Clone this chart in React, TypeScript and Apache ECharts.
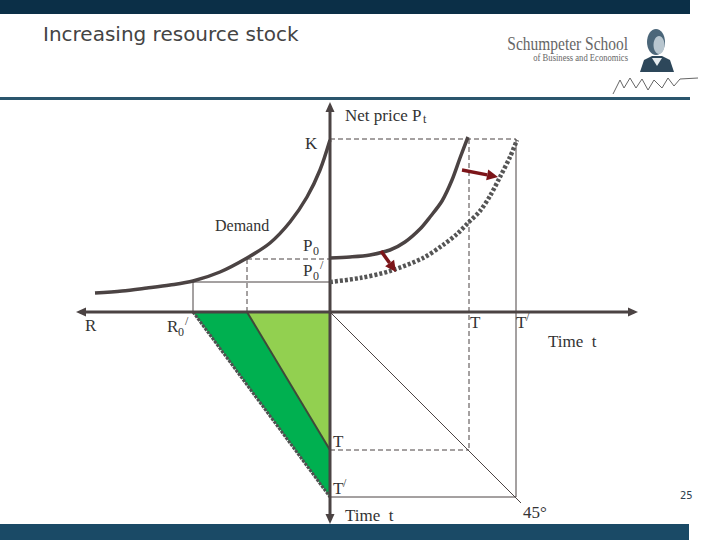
import React, { useEffect, useRef } from "react";
import * as echarts from "echarts";

// ---- Diagram data (diagram coordinates) ----
const demandCurve = [
  [95, 293], [122, 291], [147, 288], [170, 285], [193, 281], [220, 272], [247, 258],
  [270, 243], [290, 222], [307, 197], [320, 170], [330, 140],
];
const priceOriginal = [
  [330, 258], [350, 257], [370, 255], [390, 250], [405, 242], [420, 229],
  [430, 217], [442, 201], [452, 180], [460, 158], [468, 137],
];
const priceShifted = [
  [330, 282], [360, 278], [390, 271], [423, 258], [443, 245], [457, 234],
  [468, 223], [480, 211], [490, 196], [500, 177], [510, 157], [517, 140],
];
const stockDarkPoly = [[193, 312], [247, 312], [330, 450], [330, 497]];
const stockLightPoly = [[247, 312], [330, 312], [330, 450]];

const kLine = [[330, 139], [516, 139]];
const tDropOriginal = [[469, 139], [469, 450]];
const tDropShifted = [[516, 139], [516, 497]];
const p0Horizontal = [[247, 259], [330, 259]];
const p0Vertical = [[247, 259], [247, 312]];
const p0PrimeHorizontal = [[193, 282], [330, 282]];
const p0PrimeVertical = [[193, 282], [193, 312]];
const tHorizontal = [[330, 450], [469, 450]];
const tPrimeHorizontal = [[330, 497], [516, 497]];
const line45 = [[330, 312], [521, 503]];
const priceAxis = [[330, 106], [330, 520]];
const resourceAxis = [[80, 312], [634, 312]];
const darkEdge = [[193, 312], [330, 497]];
const lightEdge = [[247, 312], [330, 450]];

// arrow heads: tip x, tip y, from x, from y
const axisArrowHeads = [
  [330, 102, 330, 120],
  [330, 524, 330, 500],
  [76, 312, 100, 312],
  [638, 312, 610, 312],
];
// shift arrows: start x, start y, end x, end y
const shiftArrows = [
  [462, 170, 498, 177],
  [381, 251, 396, 272],
];

const INK = "#4b4343";
const SERIF = "'Liberation Serif', 'DejaVu Serif', serif";

function lineSeries(data: number[][], width: number, type: any, color = INK, smooth: any = false, z = 3) {
  return {
    type: "line",
    data,
    smooth,
    symbol: "none",
    silent: true,
    z,
    lineStyle: { width, type, color, cap: "butt" },
  };
}

function polySeries(points: number[][], fill: string, z = 1) {
  return {
    type: "custom",
    silent: true,
    z,
    data: [points[0]],
    renderItem: (_p: any, api: any) => ({
      type: "polygon",
      shape: { points: points.map((pt) => api.coord(pt)) },
      style: { fill },
    }),
  };
}

function txt(text: string, x: number, y: number, size = 17, extra: any = {}) {
  return {
    type: "text",
    x,
    y,
    z: 10,
    style: {
      text,
      fill: "#333",
      font: `${size}px ${SERIF}`,
      verticalAlign: "middle",
      align: "left",
      ...extra,
    },
  };
}

export default function App() {
  const ref = useRef<HTMLDivElement>(null);
  useEffect(() => {
    if (!ref.current) return;
    const chart = echarts.init(ref.current, null, { renderer: "svg" });
    const option: any = {
      animation: false,
      backgroundColor: "#ffffff",
      grid: { left: 0, right: 0, top: 0, bottom: 0 },
      xAxis: { type: "value", min: 0, max: 720, show: false },
      yAxis: { type: "value", min: 0, max: 540, inverse: true, show: false },
      series: [
        polySeries(stockDarkPoly, "#00b050", 1),
        polySeries(stockLightPoly, "#92d050", 1),
        lineSeries(darkEdge, 3, [3, 1], "#505050", false, 2),
        lineSeries(lightEdge, 2, "solid", "#3f4a3a", false, 2),
        lineSeries(kLine, 1, [5, 3]),
        lineSeries(tDropOriginal, 1, [5, 3]),
        lineSeries(tDropShifted, 1, "solid"),
        lineSeries(p0Horizontal, 1, [5, 3]),
        lineSeries(p0Vertical, 1, [5, 3]),
        lineSeries(p0PrimeHorizontal, 1, "solid"),
        lineSeries(p0PrimeVertical, 1, "solid"),
        lineSeries(tHorizontal, 1, [5, 3]),
        lineSeries(tPrimeHorizontal, 1, "solid"),
        lineSeries(line45, 1, "solid"),
        lineSeries(priceAxis, 3, "solid"),
        lineSeries(resourceAxis, 3, "solid"),
        lineSeries(demandCurve, 3.5, "solid", INK, 0.3, 4),
        lineSeries(priceOriginal, 3.5, "solid", INK, 0.3, 4),
        lineSeries(priceShifted, 4.5, [3, 2], "#555", 0.3, 4),
        {
          type: "custom",
          silent: true,
          z: 5,
          data: axisArrowHeads,
          renderItem: (_p: any, api: any) => {
            const tip = api.coord([api.value(0), api.value(1)]);
            const from = api.coord([api.value(2), api.value(3)]);
            const dx = tip[0] - from[0];
            const dy = tip[1] - from[1];
            const l = Math.hypot(dx, dy) || 1;
            const ux = dx / l, uy = dy / l;
            const len = 10, hw = 4.5;
            const bx = tip[0] - ux * len, by = tip[1] - uy * len;
            return {
              type: "polygon",
              shape: {
                points: [tip, [bx - uy * hw, by + ux * hw], [bx + uy * hw, by - ux * hw]],
              },
              style: { fill: INK },
            };
          },
        },
        {
          type: "custom",
          silent: true,
          z: 6,
          data: shiftArrows,
          renderItem: (_p: any, api: any) => {
            const a = api.coord([api.value(0), api.value(1)]);
            const b = api.coord([api.value(2), api.value(3)]);
            const dx = b[0] - a[0];
            const dy = b[1] - a[1];
            const l = Math.hypot(dx, dy) || 1;
            const ux = dx / l, uy = dy / l;
            const len = 11, hw = 5.5;
            const bx = b[0] - ux * len, by = b[1] - uy * len;
            return {
              type: "group",
              children: [
                {
                  type: "line",
                  shape: { x1: a[0], y1: a[1], x2: bx, y2: by },
                  style: { stroke: "#7c1519", lineWidth: 3.5 },
                },
                {
                  type: "polygon",
                  shape: { points: [b, [bx - uy * hw, by + ux * hw], [bx + uy * hw, by - ux * hw]] },
                  style: { fill: "#7c1519" },
                },
              ],
            };
          },
        },
      ],
      graphic: [
        // slide frame
        { type: "rect", z: 0, shape: { x: 0, y: 0, width: 690, height: 14 }, style: { fill: "#0b2f47" } },
        { type: "rect", z: 0, shape: { x: 0, y: 97, width: 690, height: 3 }, style: { fill: "#2a566d" } },
        { type: "rect", z: 0, shape: { x: 0, y: 524, width: 689, height: 16 }, style: { fill: "#1a4a66" } },
        {
          type: "text", x: 43, y: 34, z: 10,
          style: { text: "Increasing resource stock", fill: "#444", font: "20px 'DejaVu Sans', sans-serif", verticalAlign: "middle" },
        },
        {
          type: "text", x: 628, y: 44, z: 10, scaleX: 0.86, originX: 0,
          style: { text: "Schumpeter School", fill: "#666", font: "18px 'Liberation Serif', serif", align: "right", verticalAlign: "middle" },
        },
        {
          type: "text", x: 628, y: 58, z: 10, scaleX: 0.86, originX: 0,
          style: { text: "of Business and Economics", fill: "#666", font: "10px 'Liberation Serif', serif", align: "right", verticalAlign: "middle" },
        },
        // portrait sketch
        { type: "polygon", z: 1, shape: { points: [[640, 72], [644, 60], [652, 56], [662, 56], [670, 60], [674, 72]] }, style: { fill: "#2d475a" } },
        { type: "ellipse", z: 2, shape: { cx: 656, cy: 42, rx: 9, ry: 13 }, style: { fill: "#4b6679" } },
        { type: "ellipse", z: 3, shape: { cx: 659, cy: 45, rx: 5.5, ry: 9 }, style: { fill: "#b8c6cf" } },
        { type: "polygon", z: 3, shape: { points: [[652, 58], [662, 58], [657, 66]] }, style: { fill: "#e6ecef" } },
        { type: "polyline", z: 1, shape: { points: [[613, 94], [620, 80], [624, 88], [630, 78], [636, 88], [642, 79], [648, 90], [654, 80], [662, 88], [668, 78], [674, 86], [680, 79], [698, 78]] }, style: { stroke: "#666", lineWidth: 1, fill: null } },
        // labels
        txt("Net price P", 345, 115),
        txt("t", 423, 119, 12),
        txt("K", 305, 143),
        txt("Demand", 215, 225, 16),
        txt("P", 303, 245),
        txt("0", 313, 251, 12),
        txt("P", 303, 270),
        txt("0", 313, 276, 12),
        txt("/", 320, 265, 12),
        txt("R", 85, 325),
        txt("R", 167, 326),
        txt("0", 178, 332, 12),
        txt("/", 185, 321, 12),
        txt("T", 470, 322),
        txt("T", 516, 322),
        txt("/", 526, 317, 12),
        txt("Time  t", 548, 341),
        txt("T", 333, 441),
        txt("T", 333, 488),
        txt("/", 343, 483, 12),
        txt("Time  t", 345, 515),
        txt("45°", 523, 512),
        {
          type: "text", x: 680, y: 495, z: 10,
          style: { text: "25", fill: "#2d3f50", font: "10px 'DejaVu Sans', sans-serif", verticalAlign: "middle" },
        },
      ],
    };
    chart.setOption(option);
    return () => chart.dispose();
  }, []);
  return (
    <div
      ref={ref}
      style={{ position: "fixed", left: 0, top: 0, width: 720, height: 540, background: "#fff" }}
    />
  );
}
